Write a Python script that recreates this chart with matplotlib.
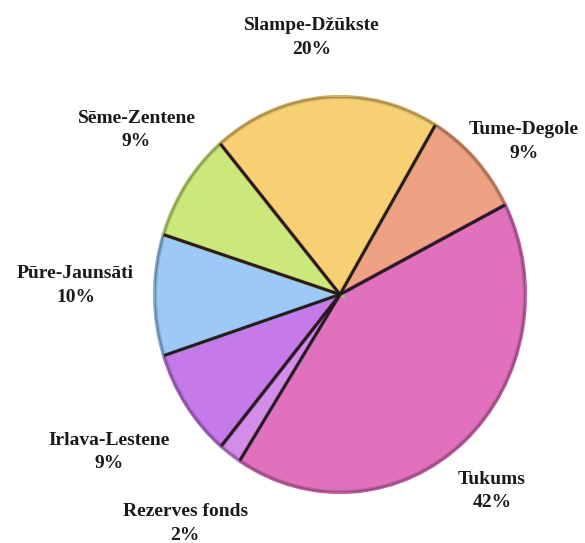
import numpy as np
import matplotlib.pyplot as plt
import matplotlib.colors as mcolors

plt.rcParams['font.family'] = ['Liberation Serif', 'DejaVu Serif']

names = ['Tume-Degole', 'Tukums', 'Rezerves fonds', 'Irlava-Lestene',
         'Pūre-Jaunsāti', 'Sēme-Zentene', 'Slampe-Džūkste']
values = [9, 42, 2, 9, 10, 9, 20]
colors = ['#eea183', '#e271bd', '#d48ce9', '#c679e8', '#9cc9f8', '#cbe97a', '#f6d072']
# label placement: distance from centre (in radii) and small angle nudge
label_dist = [1.26, 1.29, 1.43, 1.48, 1.43, 1.38, 1.31]
label_turn = [-5, -2.5, 0.5, -1.5, -2, -3.5, 2]

fig = plt.figure(figsize=(5.85, 5.43), dpi=100)
# axes box = pie bounding box
ax = fig.add_axes([155 / 585, (543 - 492) / 543, 370 / 585, 395 / 543])

def darker(c, f=0.7):
    r, g, b = mcolors.to_rgb(c)
    return (r * f, g * f, b * f)

wedges, _ = ax.pie(values, colors=colors, startangle=59, counterclock=False,
                   wedgeprops=dict(linewidth=3))
for w, c in zip(wedges, colors):
    w.set_edgecolor(darker(c, 0.85))

ax.set_aspect('auto')
ax.set_xlim(-1, 1)
ax.set_ylim(-1, 1)
ax.axis('off')

# thin darker rim
for w, c in zip(wedges, colors):
    t = np.linspace(np.deg2rad(w.theta1), np.deg2rad(w.theta2), 50)
    ax.plot(np.cos(t), np.sin(t), color=darker(c, 0.65), lw=1, zorder=3)

# dark separating lines between slices
for w in wedges:
    t = np.deg2rad(w.theta1)
    ax.plot([0, np.cos(t)], [0, np.sin(t)], color='#2a1a20', lw=2.2,
            solid_capstyle='butt', zorder=4)

total = sum(values)
for w, name, v, d, turn in zip(wedges, names, values, label_dist, label_turn):
    mid = np.deg2rad((w.theta1 + w.theta2) / 2 + turn)
    pct = round(v / total * 100)
    ax.text(d * np.cos(mid), d * np.sin(mid), f'{name}\n{pct}%',
            ha='center', va='center', fontsize=14, fontweight='bold',
            color='#1a1a1a', linespacing=1.5, clip_on=False)

fig.savefig('out.png', dpi=100)
